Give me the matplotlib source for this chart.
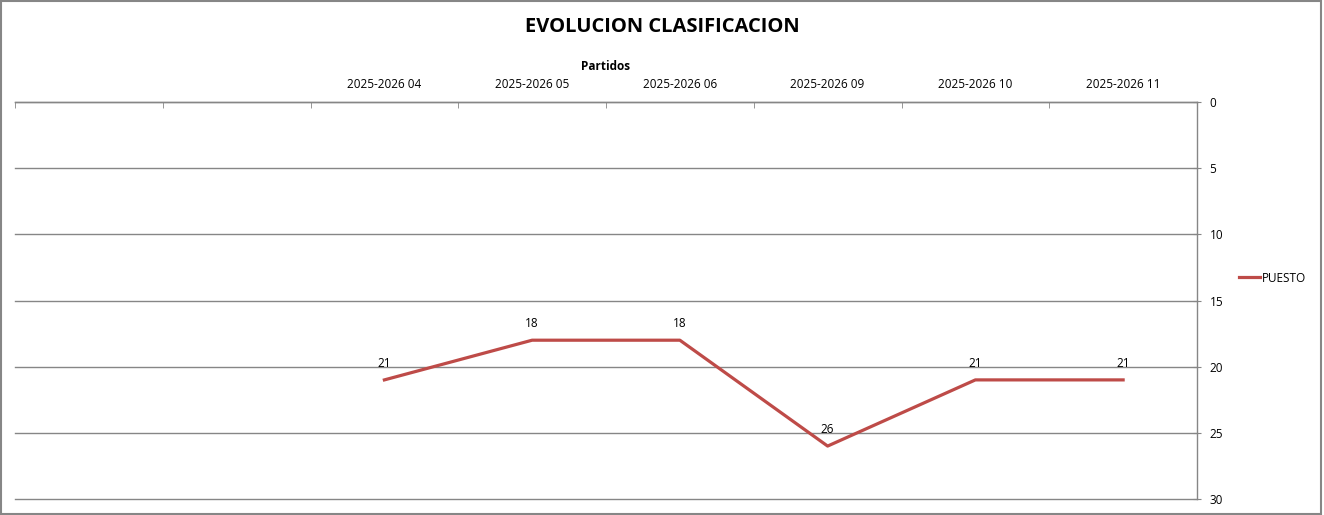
import matplotlib.pyplot as plt
import numpy as np

plt.rcParams['font.family'] = ['Open Sans', 'DejaVu Sans']

# categorias del eje (las dos primeras vacias)
partidos = ["", "", "2025-2026 04", "2025-2026 05", "2025-2026 06",
            "2025-2026 09", "2025-2026 10", "2025-2026 11"]
puesto = [np.nan, np.nan, 21, 18, 18, 26, 21, 21]

W, H = 1324, 515
fig = plt.figure(figsize=(W / 100, H / 100), dpi=100)
ax = fig.add_axes([15 / W, 1 - 499 / H, (1197 - 15) / W, (499 - 102) / H])

x = np.arange(len(partidos))
line_color = "#BE4B48"
ax.plot(x, puesto, color=line_color, lw=2.3, label="PUESTO")
for xi, v in zip(x, puesto):
    if not np.isnan(v):
        ax.annotate(f"{int(v)}", (xi, v), xytext=(0, 7), textcoords="offset points",
                    ha="center", va="bottom", fontsize=8.5)

ax.set_xlim(-0.5, len(partidos) - 0.5)
ax.set_ylim(30, 0)
ax.set_yticks(np.arange(0, 31, 5))
ax.yaxis.tick_right()
ax.tick_params(axis="y", direction="inout", length=6, color="#868686", labelsize=8.5, pad=6)

ax.xaxis.tick_top()
ax.xaxis.set_label_position("top")
ax.set_xticks(x)
ax.set_xticklabels(partidos, fontsize=8.5)
ax.set_xticks(np.arange(-0.5, len(partidos)), minor=True)
ax.tick_params(axis="x", which="major", length=0, pad=8)
ax.tick_params(axis="x", which="minor", length=4, color="#868686", direction="in")
ax.set_xlabel("Partidos", fontsize=8.5, fontweight="bold", labelpad=6)

ax.grid(axis="y", color="#868686", lw=1)
for gl in ax.get_ygridlines():
    gl.set_clip_on(False)
for s in ["left", "bottom"]:
    ax.spines[s].set_visible(False)
for s in ["top", "right"]:
    ax.spines[s].set_color("#868686")
    ax.spines[s].set_linewidth(1)

fig.text(0.5, 1 - 27 / H, "EVOLUCION CLASIFICACION", ha="center", va="center",
         fontsize=14.5, fontweight="bold")

leg = fig.legend(loc="center left", bbox_to_anchor=(1228 / W, 1 - 278 / H), frameon=False,
                 fontsize=8.5, handlelength=1.8, handletextpad=0.2)

fig.patches.append(plt.Rectangle((0.001, 0.002), 0.997, 0.996, transform=fig.transFigure,
                                 fill=False, edgecolor="#868686", lw=1.5))

fig.savefig("out.png", dpi=100)
